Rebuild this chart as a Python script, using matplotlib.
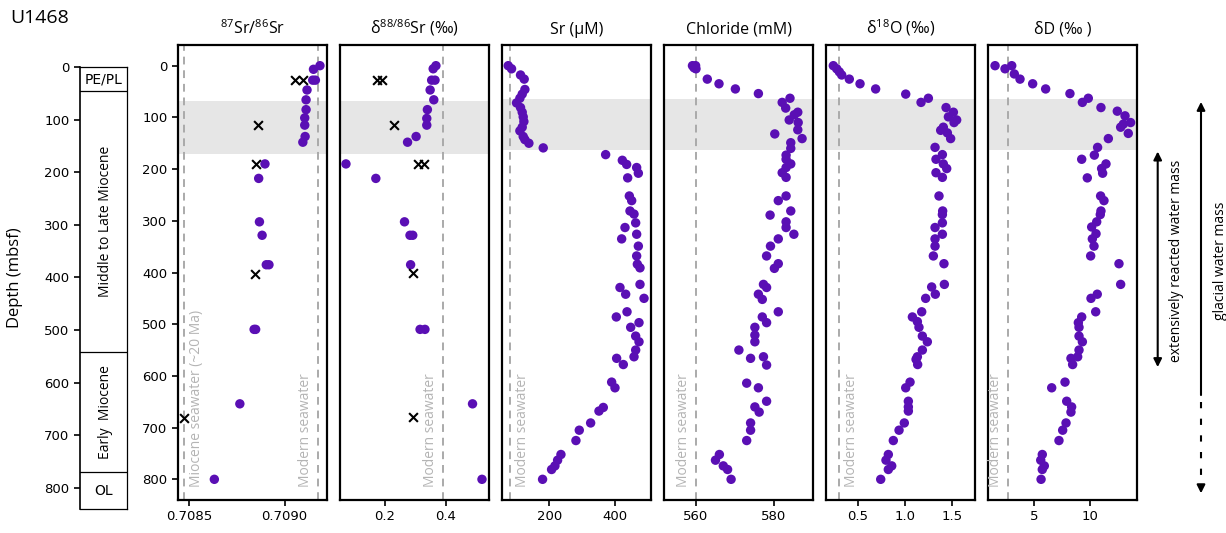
import numpy as np
import matplotlib.pyplot as plt
from matplotlib.lines import Line2D
from matplotlib.transforms import blended_transform_factory

plt.rcParams['font.family'] = ['DejaVu Sans']
plt.rcParams['mathtext.fontset'] = 'custom'
plt.rcParams['mathtext.rm'] = 'Open Sans'
plt.rcParams['mathtext.it'] = 'Open Sans:italic'

# --- data (depth in mbsf) ---
sr87_depth = [0, 7, 28, 28, 47, 66, 85, 101, 115, 137, 148, 190, 218, 302, 328,
              385, 385, 510, 510, 654, 800]
sr87_ratio = [0.709186, 0.709152, 0.709148, 0.709162, 0.709118, 0.709113, 0.709113,
              0.709106, 0.709106, 0.709108, 0.709096, 0.708897, 0.708864, 0.708868,
              0.708882, 0.708904, 0.708918, 0.708840, 0.708848, 0.708765, 0.708631]
sr87_x_depth = [28, 28, 115, 190, 402, 681]
sr87_x_ratio = [0.709057, 0.709096, 0.708861, 0.708852, 0.708843, 0.708472]

d88_depth = [0, 6, 28, 28, 47, 66, 85, 102, 115, 137, 148, 190, 218, 302, 328, 328,
             385, 510, 510, 654, 800]
d88_val = [0.367, 0.358, 0.353, 0.364, 0.348, 0.360, 0.339, 0.337, 0.337, 0.302,
           0.274, 0.072, 0.170, 0.264, 0.282, 0.291, 0.284, 0.315, 0.331, 0.487, 0.518]
d88_x_depth = [28, 28, 115, 190, 190, 401, 679]
d88_x_val = [0.173, 0.189, 0.230, 0.309, 0.329, 0.291, 0.291]

sr_depth = [0, 6, 18, 26, 46, 55, 63, 72, 81, 90, 99, 108, 119, 126, 137, 143, 150,
            159, 172, 183, 191, 197, 208, 217, 252, 261, 281, 287, 304, 313, 326, 335,
            349, 368, 384, 391, 423, 429, 442, 450, 476, 486, 497, 506, 523, 534, 550,
            563, 566, 578, 612, 623, 661, 668, 691, 705, 725, 752, 763, 774, 781, 800]
sr_um = [75.8, 85.9, 113.1, 124.2, 126.3, 118.2, 111.1, 101.0, 113.1, 118.2, 121.2,
         123.2, 118.2, 111.1, 121.2, 126.3, 138.4, 181.8, 370.7, 421.2, 434.3, 464.6,
         469.7, 437.4, 442.4, 449.5, 444.4, 456.6, 461.6, 429.3, 464.6, 419.2, 469.7,
         464.6, 466.7, 474.7, 474.7, 414.1, 431.3, 486.9, 435.4, 403.0, 471.7, 446.5,
         461.6, 471.7, 461.6, 456.6, 404.0, 424.2, 388.9, 399.0, 363.6, 350.5, 325.3,
         290.9, 280.8, 235.4, 225.3, 217.2, 207.1, 179.8]

cl_depth = [0, 0, 6, 4, 26, 35, 45, 54, 63, 71, 82, 90, 95, 105, 110, 124, 132, 141,
            149, 160, 173, 181, 190, 197, 207, 216, 252, 261, 281, 289, 302, 313, 326,
            335, 349, 368, 383, 392, 423, 429, 442, 452, 476, 486, 497, 506, 521, 534,
            550, 566, 563, 579, 614, 623, 649, 660, 670, 691, 705, 725, 752, 763, 774,
            781, 800]
cl_mm = [559.1, 559.9, 560.0, 559.5, 562.9, 565.9, 570.1, 576.0, 584.1, 582.1, 583.0,
         586.1, 585.2, 583.9, 586.2, 586.1, 580.2, 587.2, 584.3, 584.3, 583.1, 583.1,
         584.3, 583.1, 582.1, 583.1, 583.1, 581.1, 584.3, 579.0, 583.1, 583.1, 585.1,
         581.1, 579.1, 578.1, 581.1, 580.1, 577.3, 578.1, 576.0, 577.0, 581.1, 577.0,
         578.1, 575.1, 575.1, 575.1, 571.0, 574.0, 577.3, 578.1, 573.0, 576.0, 578.1,
         575.1, 576.2, 574.0, 574.0, 573.0, 566.0, 565.0, 567.0, 568.1, 569.0]

o18_depth = [0, 6, 12, 18, 26, 35, 45, 55, 63, 71, 81, 90, 99, 105, 110, 119, 125,
             130, 141, 158, 172, 181, 190, 199, 207, 216, 252, 281, 288, 304, 313, 326,
             335, 349, 368, 383, 428, 423, 442, 450, 476, 486, 495, 506, 523, 534, 550,
             563, 568, 578, 612, 623, 649, 660, 668, 691, 705, 725, 752, 763, 774, 781,
             800]
o18_val = [0.241, 0.277, 0.305, 0.330, 0.411, 0.525, 0.691, 1.011, 1.252, 1.174, 1.440,
           1.518, 1.465, 1.553, 1.525, 1.411, 1.383, 1.454, 1.489, 1.323, 1.401, 1.333,
           1.411, 1.447, 1.333, 1.401, 1.365, 1.404, 1.401, 1.401, 1.323, 1.401, 1.323,
           1.323, 1.305, 1.418, 1.287, 1.422, 1.326, 1.223, 1.181, 1.082, 1.135, 1.152,
           1.188, 1.241, 1.188, 1.135, 1.121, 1.138, 1.057, 1.011, 1.039, 1.039, 1.039,
           0.996, 0.940, 0.879, 0.826, 0.801, 0.862, 0.826, 0.745]

dd_depth = [0, 6, 0, 16, 26, 35, 45, 54, 63, 71, 81, 88, 97, 110, 119, 113, 131, 141,
            158, 173, 181, 190, 199, 208, 217, 252, 261, 281, 288, 302, 312, 325, 335,
            349, 368, 383, 423, 442, 450, 476, 486, 497, 506, 523, 534, 550, 563, 566,
            578, 623, 612, 649, 660, 670, 691, 705, 725, 752, 763, 774, 781, 800]
dd_val = [1.52, 2.41, 3.01, 3.24, 3.75, 4.88, 6.04, 8.21, 9.85, 9.32, 10.98, 12.44,
          13.13, 13.63, 12.74, 12.98, 13.42, 11.64, 10.68, 10.39, 9.26, 11.43, 11.04,
          11.13, 9.76, 10.95, 11.25, 10.98, 10.92, 10.60, 10.15, 10.54, 10.21, 10.36,
          10.06, 12.59, 12.74, 10.65, 10.09, 10.51, 9.26, 8.96, 9.02, 9.02, 9.32, 9.02,
          8.90, 8.30, 8.45, 6.58, 7.77, 7.92, 8.36, 8.30, 7.86, 7.56, 7.23, 5.74, 5.60,
          5.92, 5.74, 5.63]

strat_names = ['PE/PL', 'Middle to Late Miocene', 'Early  Miocene', 'OL']
strat_top = [0, 46, 541, 770]
strat_base = [46, 541, 770, 840]

PURPLE = '#5a0fb4'
GREY_TXT = '#b4b4b4'
GREY_LINE = '#aaaaaa'
BAND = '#e6e6e6'
HUMAN = 'Open Sans'

W, H = 1226, 533
fig = plt.figure(figsize=(W / 100, H / 100), dpi=100)


def px_axes(left, top, right, bottom):
    return fig.add_axes([left / W, 1 - bottom / H, (right - left) / W, (bottom - top) / H])


def seawater(ax, x, label, side):
    """dashed reference line with rotated label at the bottom"""
    ax.axvline(x, color=GREY_LINE, ls=(0, (4, 3)), lw=1.4, zorder=1)
    off = 9 if side == 'right' else -9
    ax.annotate(label, xy=(x, 0.028), xycoords=('data', 'axes fraction'),
                xytext=(off, 0), textcoords='offset points', rotation=90,
                ha='center', va='bottom', color=GREY_TXT, fontsize=10, family=HUMAN)


# stratigraphic column
ax_s = px_axes(80, 67, 127, 509)
ax_s.set_ylim(840, 0)
ax_s.set_xlim(0, 1)
ax_s.set_xticks([])
ax_s.set_yticks(range(0, 900, 100))
ax_s.tick_params(axis='y', labelsize=9.5, width=1.2, length=4)
for sp in ax_s.spines.values():
    sp.set_linewidth(0.9)
ax_s.spines['left'].set_linewidth(1.2)
for name, top, base in zip(strat_names, strat_top, strat_base):
    if top > 0:
        ax_s.axhline(top, color='black', lw=0.9)
    mid = (top + base) / 2
    if name in ('PE/PL', 'OL'):
        ax_s.text(0.5, mid, name, ha='center', va='center', fontsize=10)
    else:
        ax_s.text(0.55, mid, name, ha='center', va='center', rotation=90,
                  fontsize=10, family=HUMAN)

fig.text(10 / W, 1 - 18 / H, 'U1468', fontsize=14, family=HUMAN, va='center')
fig.text(15 / W, 1 - 278 / H, 'Depth (mbsf)', rotation=90, fontsize=12,
         family=HUMAN, ha='center', va='center')

panels = [
    (178, r'$^{87}$Sr/$^{86}$Sr', (0.70844, 0.709223), [0.7085, 0.7090], '%.4f', (68, 171)),
    (340, r'δ$^{88/86}$Sr (‰)', (0.0525, 0.541), [0.2, 0.4], '%.1f', (68, 171)),
    (502, 'Sr (µM)', (57, 508), [200, 400], '%d', (65, 163)),
    (664, 'Chloride (mM)', (551.8, 590), [560, 580], '%d', (65, 163)),
    (826, r'δ$^{18}$O (‰)', (0.163, 1.748), [0.5, 1.0, 1.5], '%.1f', (65, 163)),
    (988, 'δD (‰ )', (0.89, 14.2), [5, 10], '%d', (65, 163)),
]

axes = []
for left, title, xlim, xt, fmt, band in panels:
    ax = px_axes(left, 45, left + 149, 500)
    ax.set_xlim(*xlim)
    ax.set_ylim(840, -40)
    ax.set_xticks(xt)
    ax.set_xticklabels([fmt % v for v in xt])
    ax.tick_params(axis='x', labelsize=9.5, width=1.2, length=4)
    ax.axhspan(band[0], band[1], color=BAND, lw=0, zorder=0)
    for sp in ax.spines.values():
        sp.set_linewidth(1.6)
    ax.set_title(title, fontsize=11.5, family=HUMAN, pad=8)
    if left == 178:
        ax.set_yticks(range(0, 900, 100))
        ax.tick_params(axis='y', labelsize=9.5, width=1.2, length=4)
    else:
        ax.set_yticks([])
    axes.append(ax)

ax1, ax2, ax3, ax4, ax5, ax6 = axes
dot = dict(s=46, color=PURPLE, edgecolors='none', zorder=3)
cross = dict(s=40, color='black', marker='x', linewidths=1.5, zorder=4)

seawater(ax1, 0.70847, 'Miocene seawater (~20 Ma)', 'right')
seawater(ax1, 0.709175, 'Modern seawater', 'left')
ax1.scatter(sr87_ratio, sr87_depth, **dot)
ax1.scatter(sr87_x_ratio, sr87_x_depth, **cross)

seawater(ax2, 0.39, 'Modern seawater', 'left')
ax2.scatter(d88_val, d88_depth, **dot)
ax2.scatter(d88_x_val, d88_x_depth, **cross)

seawater(ax3, 80, 'Modern seawater', 'right')
ax3.scatter(sr_um, sr_depth, **dot)

seawater(ax4, 560, 'Modern seawater', 'left')
ax4.scatter(cl_mm, cl_depth, **dot)

seawater(ax5, 0.30, 'Modern seawater', 'right')
ax5.scatter(o18_val, o18_depth, **dot)

seawater(ax6, 2.65, 'Modern seawater', 'left')
ax6.scatter(dd_val, dd_depth, **dot)

# water mass arrows on the right
tr = blended_transform_factory(fig.transFigure, ax6.transData)
head = dict(color='black', lw=1.5, mutation_scale=12, shrinkA=0, shrinkB=0)
xa, xg = 1157.7 / W, 1201 / W
ax6.annotate('', xy=(xa, 166), xytext=(xa, 583), xycoords=tr, textcoords=tr,
             arrowprops=dict(arrowstyle='<|-|>', **head), annotation_clip=False)
ax6.text(1177 / W, 378, 'extensively reacted water mass', transform=tr, rotation=90,
         ha='center', va='center', fontsize=10, family=HUMAN)
ax6.annotate('', xy=(xg, 70), xytext=(xg, 637), xycoords=tr, textcoords=tr,
             arrowprops=dict(arrowstyle='-|>', **head), annotation_clip=False)
fig.add_artist(Line2D([xg, xg], [650, 815], transform=tr, color='black', lw=1.5,
                      ls=(0, (3, 5))))
ax6.annotate('', xy=(xg, 827), xytext=(xg, 815), xycoords=tr, textcoords=tr,
             arrowprops=dict(arrowstyle='-|>', **head), annotation_clip=False)
ax6.text(1220 / W, 378, 'glacial water mass', transform=tr, rotation=90,
         ha='center', va='center', fontsize=10, family=HUMAN)

fig.savefig('out.png', dpi=100)
